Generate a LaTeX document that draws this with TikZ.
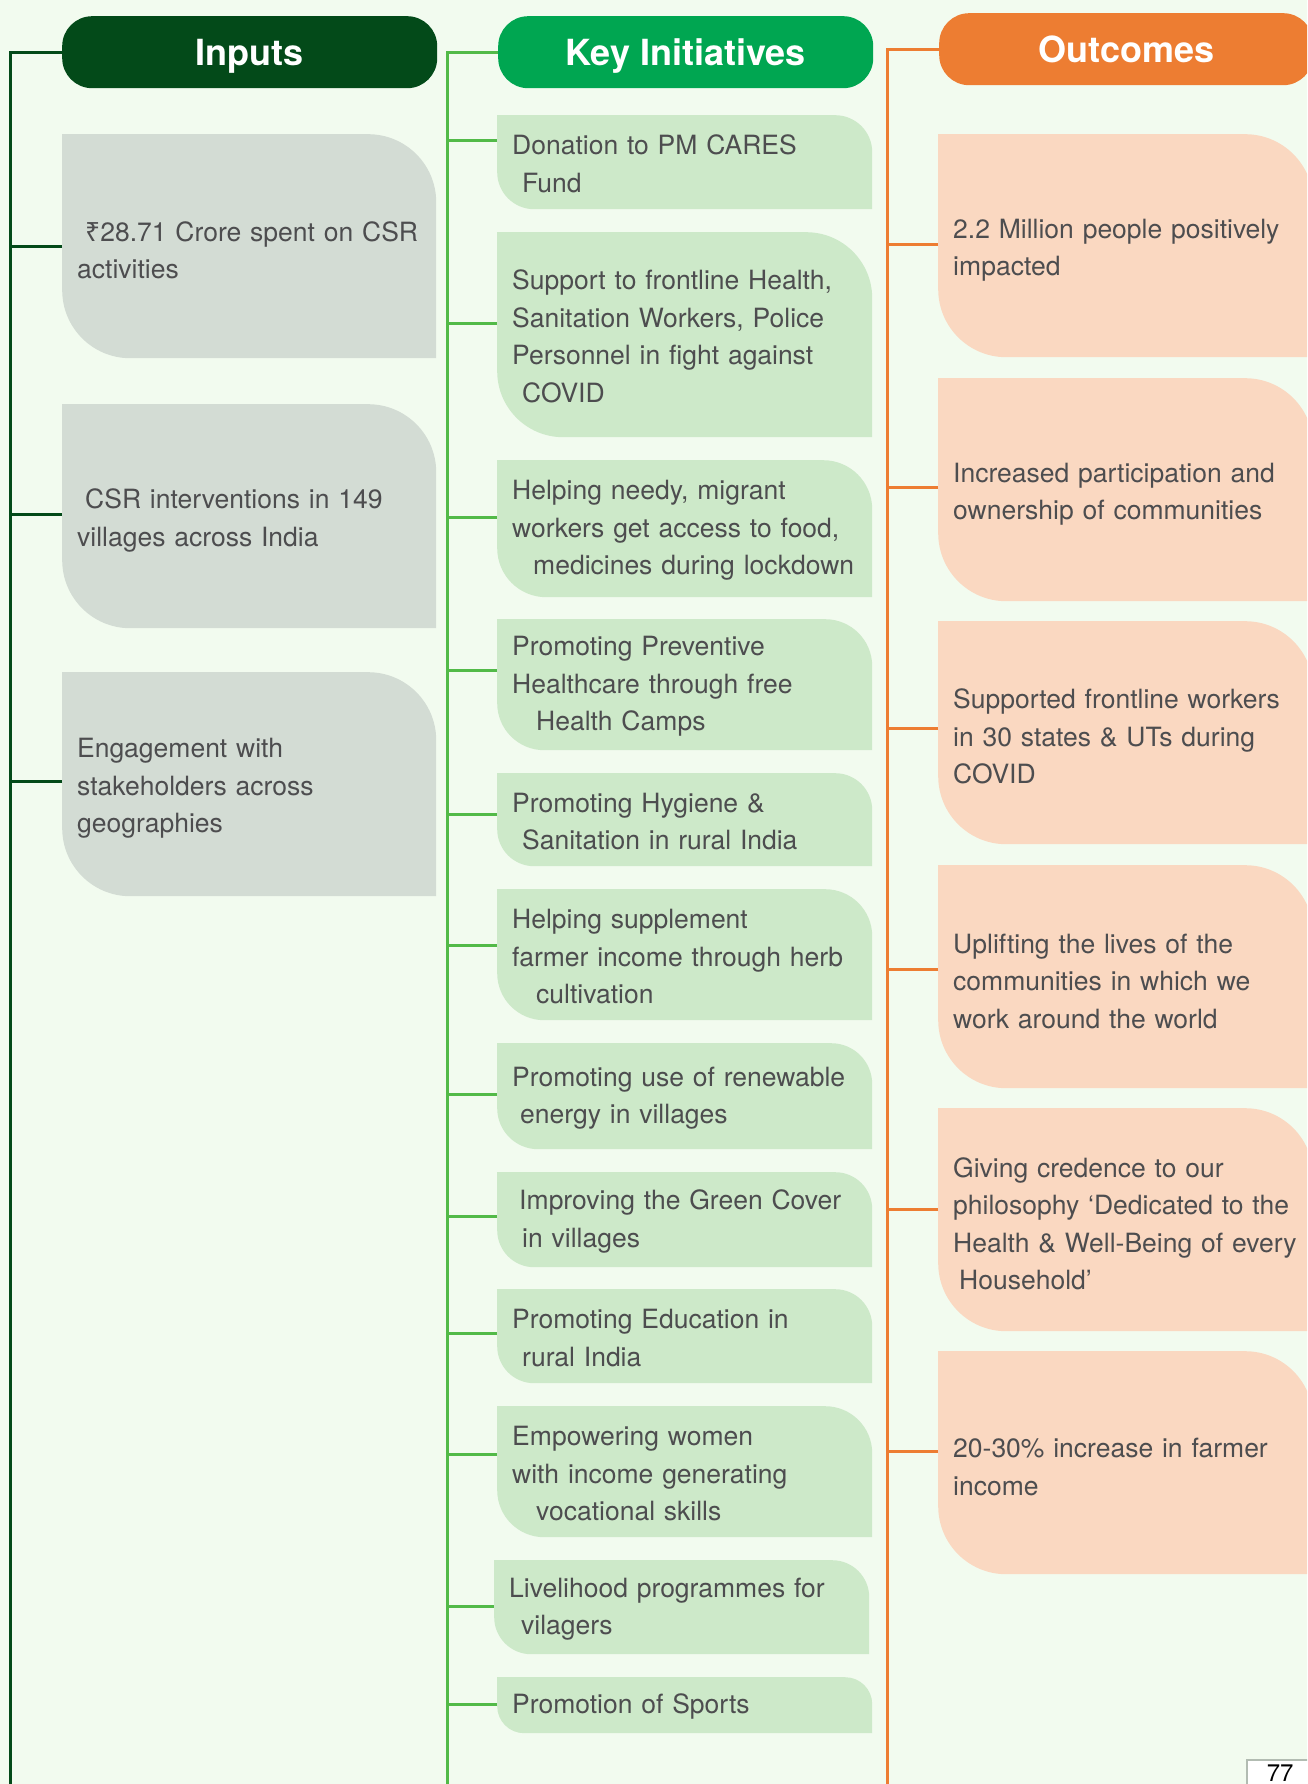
\documentclass[tikz,border=0pt]{standalone}
\usepackage{fontspec}
\setmainfont{TeX Gyre Heros}
\newfontfamily\rupeefont{Noto Sans}
\usepackage{tikz}
\usetikzlibrary{calc,positioning}

\definecolor{bgmint}{RGB}{242,251,239}
\definecolor{inpdark}{RGB}{3,74,25}
\definecolor{keygreen}{RGB}{0,166,81}
\definecolor{keyline}{RGB}{82,186,72}
\definecolor{outorange}{RGB}{237,125,50}
\definecolor{inpfill}{RGB}{211,220,212}
\definecolor{keyfill}{RGB}{205,233,201}
\definecolor{outfill}{RGB}{250,216,193}
\definecolor{bodytext}{RGB}{77,77,79}
\definecolor{pagegrey}{RGB}{178,188,178}

% box with rounded top right and bottom left corners
\tikzset{
  leaf/.style 2 args={path picture={
    \fill[#1] let \p1=(path picture bounding box.south west),
                  \p2=(path picture bounding box.north east) in
      (\x1,\y2) -- (\x2-#2pt,\y2) arc[start angle=90,end angle=0,radius=#2pt]
      -- (\x2,\y1) -- (\x1+#2pt,\y1) arc[start angle=270,end angle=180,radius=#2pt] -- cycle;}}
}

\begin{document}
\begin{tikzpicture}[x=1pt,y=-1pt]
      \tikzstyle{head} = [rounded corners=30pt, text=white, font=\fontsize{36}{40}\selectfont\bfseries, minimum height=72pt, text height=26pt, text depth=0pt, anchor=north west, inner sep=0pt]
      \tikzstyle{box} = [anchor=north west, align=left, inner xsep=15pt, inner ysep=0pt, text width=345pt, text=bodytext, font=\fontsize{26.5}{37.5}\selectfont]
      \tikzstyle{inbox} = [box, leaf={inpfill}{68}, minimum height=224pt, text width=344pt, execute at begin node={\rule{0pt}{28pt}}]
      \tikzstyle{outbox} = [box, leaf={outfill}{68}, minimum height=223pt, execute at begin node={\rule{0pt}{28pt}}]
      \tikzstyle{kbox} = [box, execute at begin node={\rule{0pt}{23pt}}]
      \tikzstyle{spine} = [line width=3pt]

      \useasboundingbox (0,0) rectangle (1307,1784);
      \clip (0,0) rectangle (1307,1784);
      \fill[bgmint] (0,0) rectangle (1307,1784);

      % headers
      \node[head, fill=inpdark, minimum width=375pt] (ihead) at (62,16) {Inputs};
      \node[head, fill=keygreen, minimum width=375pt] (khead) at (498,16) {Key Initiatives};
      \node[head, fill=outorange, minimum width=374pt] (ohead) at (939,13) {Outcomes};

      \coordinate (iend) at (10,1800);
      \coordinate (kend) at (447,1800);
      \coordinate (oend) at (887,1800);

      % inputs
      \node[inbox] (i1) at (62,134) {\hspace*{8pt}{\rupeefont ₹}28.71 Crore spent on CSR\\activities};
      \node[inbox] (i2) at (62,404) {\hspace*{8pt}CSR interventions in 149\\villages across India};
      \node[inbox] (i3) at (62,672) {Engagement with\\stakeholders across\\geographies};

      % key initiatives
      \node[kbox, leaf={keyfill}{37}, minimum height=94pt] (k1) at (497,115) {Donation to PM CARES\\\hspace*{10pt}Fund};
      \node[kbox, leaf={keyfill}{66}, minimum height=205pt] (k2) at (497,232) {Support to frontline Health,\\Sanitation Workers, Police\\Personnel in fight against\\\hspace*{10pt}COVID};
      \node[kbox, leaf={keyfill}{49}, minimum height=137pt] (k3) at (497,460) {Helping needy, migrant\\workers get access to food,\\\hspace*{21pt}medicines during lockdown};
      \node[kbox, leaf={keyfill}{47}, minimum height=131pt] (k4) at (497,619) {Promoting Preventive\\Healthcare through free\\\hspace*{24pt}Health Camps};
      \node[kbox, leaf={keyfill}{37}, minimum height=93pt] (k5) at (497,773) {Promoting Hygiene \&\\\hspace*{10pt}Sanitation in rural India};
      \node[kbox, leaf={keyfill}{47}, minimum height=131pt] (k6) at (497,889) {Helping supplement\\farmer income through herb\\\hspace*{24pt}cultivation};
      \node[kbox, leaf={keyfill}{41}, minimum height=106pt] (k7) at (497,1043) {Promoting use of renewable\\\hspace*{8pt}energy in villages};
      \node[kbox, leaf={keyfill}{37}, minimum height=95pt] (k8) at (497,1172) {\hspace*{7pt}Improving the Green Cover\\\hspace*{10pt}in villages};
      \node[kbox, leaf={keyfill}{37}, minimum height=94pt] (k9) at (497,1289) {Promoting Education in\\\hspace*{10pt}rural India};
      \node[kbox, leaf={keyfill}{47}, minimum height=131pt] (k10) at (497,1406) {Empowering women\\with income generating\\\hspace*{24pt}vocational skills};
      \node[kbox, leaf={keyfill}{37}, minimum height=94pt] (k11) at (494,1560) {Livelihood programmes for\\\hspace*{12pt}vilagers};
      \node[kbox, leaf={keyfill}{27}, minimum height=56pt] (k12) at (497,1677) {Promotion of Sports};

      % outcomes
      \node[outbox] (o1) at (938,134) {2.2 Million people positively\\impacted};
      \node[outbox] (o2) at (938,378) {Increased participation and\\ownership of communities};
      \node[outbox] (o3) at (938,621) {Supported frontline workers\\in 30 states \& UTs during\\COVID};
      \node[outbox] (o4) at (938,865) {Uplifting the lives of the\\communities in which we\\work around the world};
      \node[outbox] (o5) at (938,1108) {Giving credence to our\\philosophy ‘Dedicated to the\\Health \& Well-Being of every\\\hspace*{6pt}Household’};
      \node[outbox] (o6) at (938,1351) {20-30\% increase in farmer\\income};

      % connectors
      \draw[spine, inpdark] (ihead.west) -| (iend);
      \foreach \n/\dy in {1/0,2/1.5,3/2.5}
        \draw[spine, inpdark] ([yshift=\dy pt]i\n.west) -| (iend);
      \draw[spine, keyline] (khead.west) -| (kend);
      \foreach \n/\dy in {1/22,2/11,3/11,4/14,5/5,6/9,7/2,8/3,9/3,10/17,11/1,12/1}
        \draw[spine, keyline] ([yshift=\dy pt]k\n.west) -| (kend);
      \draw[spine, outorange] (ohead.west) -| (oend);
      \foreach \n/\dy in {1/1,2/2.5,3/4.5,4/7,5/10,6/11}
        \draw[spine, outorange] ([yshift=\dy pt]o\n.west) -| (oend);

      % page number
      \node[draw=pagegrey, line width=1.5pt, fill=white, anchor=north west, align=left, text width=50pt, inner xsep=20pt, inner ysep=4pt, text height=18pt, text depth=0pt, font=\fontsize{24}{24}\selectfont] (pagenum) at (1246,1759) {77};
\end{tikzpicture}
\end{document}
